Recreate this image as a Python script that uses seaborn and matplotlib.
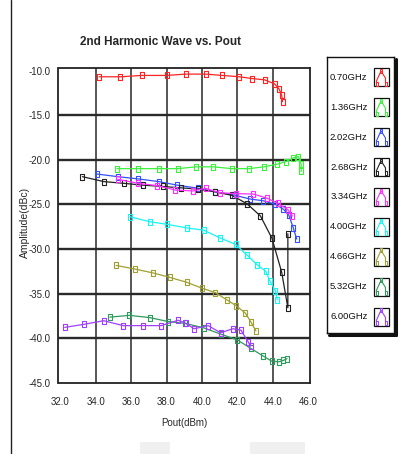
import numpy as np
import pandas as pd
import matplotlib
matplotlib.use('Agg')
import matplotlib.pyplot as plt
import seaborn as sns
from matplotlib.patches import Rectangle
from matplotlib.lines import Line2D

# series: Pout (dBm) vs 2nd harmonic amplitude (dBc)
labels = ['0.70GHz', '1.36GHz', '2.02GHz', '2.68GHz', '3.34GHz',
          '4.00GHz', '4.66GHz', '5.32GHz', '6.00GHz']
colors = ['#ff2424', '#3cf03c', '#3450ff', '#222222', '#ff30ff',
          '#18f4f4', '#a0a032', '#2e9a5c', '#a040ff']

x_070 = [34.2, 35.4, 36.6, 38.0, 39.1, 40.2, 41.15, 42.1, 42.85, 43.55, 44.1, 44.35, 44.5, 44.55]
y_070 = [-10.7, -10.7, -10.55, -10.55, -10.4, -10.4, -10.55, -10.7, -10.9, -11.05, -11.5, -12.05, -12.75, -13.5]

x_136 = [35.2, 36.4, 37.55, 38.65, 39.65, 40.65, 41.7, 42.65, 43.5, 44.25, 44.75, 45.15, 45.45, 45.6, 45.6]
y_136 = [-21.0, -21.0, -21.0, -21.0, -20.8, -20.8, -21.0, -21.0, -20.8, -20.5, -20.2, -19.8, -19.65, -20.5, -21.3]

x_202 = [34.05, 35.25, 36.4, 37.55, 38.6, 39.8, 40.75, 41.8, 42.7, 43.45, 44.15, 44.6, 44.9, 45.15, 45.35]
y_202 = [-21.6, -21.9, -22.15, -22.45, -22.85, -23.2, -23.6, -23.95, -24.4, -24.6, -25.0, -25.55, -26.2, -27.6, -28.9]

x_268 = [33.25, 34.45, 35.6, 36.65, 37.8, 38.8, 39.8, 40.75, 41.7, 42.55, 43.3, 43.95, 44.5, 44.85, 44.85]
y_268 = [-21.9, -22.45, -22.65, -22.85, -23.0, -23.15, -23.3, -23.6, -24.0, -24.95, -26.3, -28.8, -32.6, -36.6, -28.3]

x_334 = [35.25, 36.4, 37.45, 38.5, 39.5, 40.2, 41.0, 41.9, 42.9, 43.65, 44.3, 44.85, 45.1]
y_334 = [-22.2, -22.65, -22.9, -23.4, -23.5, -23.2, -23.7, -23.8, -23.85, -24.3, -24.9, -25.6, -26.3]

x_400 = [35.95, 37.05, 38.05, 39.15, 40.1, 41.0, 41.9, 42.55, 43.1, 43.6, 43.85, 44.15, 44.25]
y_400 = [-26.4, -26.95, -27.25, -27.65, -27.9, -28.75, -29.5, -30.7, -31.75, -32.5, -33.65, -34.7, -35.7]

x_466 = [35.15, 36.2, 37.25, 38.2, 39.15, 40.0, 40.75, 41.4, 41.95, 42.45, 42.75, 43.05]
y_466 = [-31.85, -32.25, -32.7, -33.2, -33.75, -34.4, -34.9, -35.7, -36.4, -37.2, -38.15, -39.2]

x_532 = [34.8, 35.9, 37.05, 38.1, 39.05, 40.1, 41.05, 42.0, 42.75, 43.45, 43.95, 44.35, 44.6, 44.8]
y_532 = [-37.65, -37.45, -37.7, -38.15, -38.35, -38.85, -39.55, -40.2, -41.15, -42.0, -42.6, -42.65, -42.5, -42.3]

x_600 = [32.25, 33.35, 34.45, 35.55, 36.65, 37.7, 38.65, 39.1, 39.55, 40.35, 41.05, 41.75, 42.2, 42.6, 42.75]
y_600 = [-38.8, -38.45, -38.05, -38.6, -38.6, -38.6, -38.0, -38.35, -38.95, -38.6, -39.4, -38.95, -39.1, -40.4, -40.9]

xs = [x_070, x_136, x_202, x_268, x_334, x_400, x_466, x_532, x_600]
ys = [y_070, y_136, y_202, y_268, y_334, y_400, y_466, y_532, y_600]

xticks = [32.0, 34.0, 36.0, 38.0, 40.0, 42.0, 44.0, 46.0]
yticks = [-10.0, -15.0, -20.0, -25.0, -30.0, -35.0, -40.0, -45.0]

sns.set_style('white')
narrow = ['Liberation Sans Narrow', 'Liberation Sans', 'DejaVu Sans']
plt.rcParams['font.family'] = narrow

# tall open rectangle marker like the original instrument plot
tall_box = [(-0.55, -1), (0.55, -1), (0.55, 1), (-0.55, 1), (-0.55, -1)]

W, H = 401, 454
fig = plt.figure(figsize=(W / 100, H / 100), dpi=100)
fig.patch.set_facecolor('white')

def px(x0, y0, x1, y1):
    # pixel box -> figure fraction rect
    return [x0 / W, 1 - y1 / H, (x1 - x0) / W, (y1 - y0) / H]

ax = fig.add_axes(px(58.5, 68.3, 310, 382.7))

for i in range(len(labels)):
    d = pd.DataFrame({'pout': xs[i], 'amp': ys[i]})
    sns.lineplot(data=d, x='pout', y='amp', sort=False, estimator=None, ax=ax,
                 color=colors[i], lw=0.9, marker=tall_box, markersize=4.6,
                 markerfacecolor='none', markeredgecolor=colors[i],
                 markeredgewidth=0.8, legend=False, zorder=3)

ax.set_xlim(31.9, 46.1)
ax.set_ylim(-45, -9.75)
ax.set_xticks(xticks)
ax.set_yticks(yticks)
ax.set_xticklabels(['%.1f' % v for v in xticks])
ax.set_yticklabels(['%.1f' % v for v in yticks])
ax.set_xticks(np.arange(32, 46.01, 0.2), minor=True)
ax.set_yticks(np.arange(-45, -9.9, 1.0), minor=True)
ax.tick_params(axis='both', which='major', direction='out', length=4, width=0.8,
               labelsize=7, color='#222', pad=2)
ax.tick_params(axis='both', which='minor', direction='out', length=2.5, width=0.6, color='#222')
ax.tick_params(axis='x', pad=6)
ax.tick_params(top=False, right=False)

for v in xticks[1:-1]:
    ax.axvline(v, color='#3a3a3a', lw=1.2, zorder=1)
for v in yticks[1:-1]:
    ax.axhline(v, color='#2a2a2a', lw=1.7, zorder=1)
for s in ax.spines.values():
    s.set_color('#222')
    s.set_linewidth(1.3)

ax.set_xlabel('Pout(dBm)', fontsize=7, labelpad=8)
ax.set_ylabel('')
fig.text(25 / W, 1 - 222 / H, 'Amplitude(dBc)', rotation=90, ha='center', va='center',
         fontsize=7.5, family=['Liberation Sans', 'DejaVu Sans'])
fig.text(80 / W, 1 - 42 / H, '2nd Harmonic Wave vs. Pout', ha='left', va='center',
         fontsize=8.5, fontweight='bold', family=narrow)

# legend panel
lax = fig.add_axes(px(327, 57, 394, 333))
lax.set_xlim(327, 394)
lax.set_ylim(333, 57)
lax.set_xticks([])
lax.set_yticks([])
for s in lax.spines.values():
    s.set_color('#111')
    s.set_linewidth(1.0)
fig.add_artist(Line2D([395.5 / W, 395.5 / W], [1 - 59 / H, 1 - 335 / H], color='#111', lw=2.2))
fig.add_artist(Line2D([329 / W, 395.5 / W], [1 - 334.5 / H, 1 - 334.5 / H], color='#111', lw=2.2))

icon_x = np.array([0.2, 0.2, 0.5, 0.8, 0.8])
icon_y = np.array([0.15, 0.3, 0.85, 0.45, 0.15])
for i, lab in enumerate(labels):
    yc = 77.3 + i * 29.9
    lax.text(367.5, yc, lab, ha='right', va='center', fontsize=6.8, color='#111')
    lax.add_patch(Rectangle((373.5, yc - 9), 15, 18, fill=False, ec='#111', lw=0.9))
    lx = 373.5 + icon_x * 15
    ly = yc + 9 - icon_y * 18
    lax.plot(lx, ly, color=colors[i], lw=0.8)
    lax.plot(lx[[0, 2, 4]], ly[[0, 2, 4]], ls='none', marker=tall_box, markersize=3.0,
             mfc='none', mec=colors[i], mew=0.7)

# page frame line and faint watermark blocks
fig.add_artist(Line2D([11 / W, 11 / W], [0, 1], color='#222', lw=1.0))
fig.add_artist(Rectangle((140 / W, 0), 30 / W, 12 / H, color='#f0f0f0', lw=0))
fig.add_artist(Rectangle((250 / W, 0), 55 / W, 12 / H, color='#f0f0f0', lw=0))

fig.savefig('out.png', dpi=100)
